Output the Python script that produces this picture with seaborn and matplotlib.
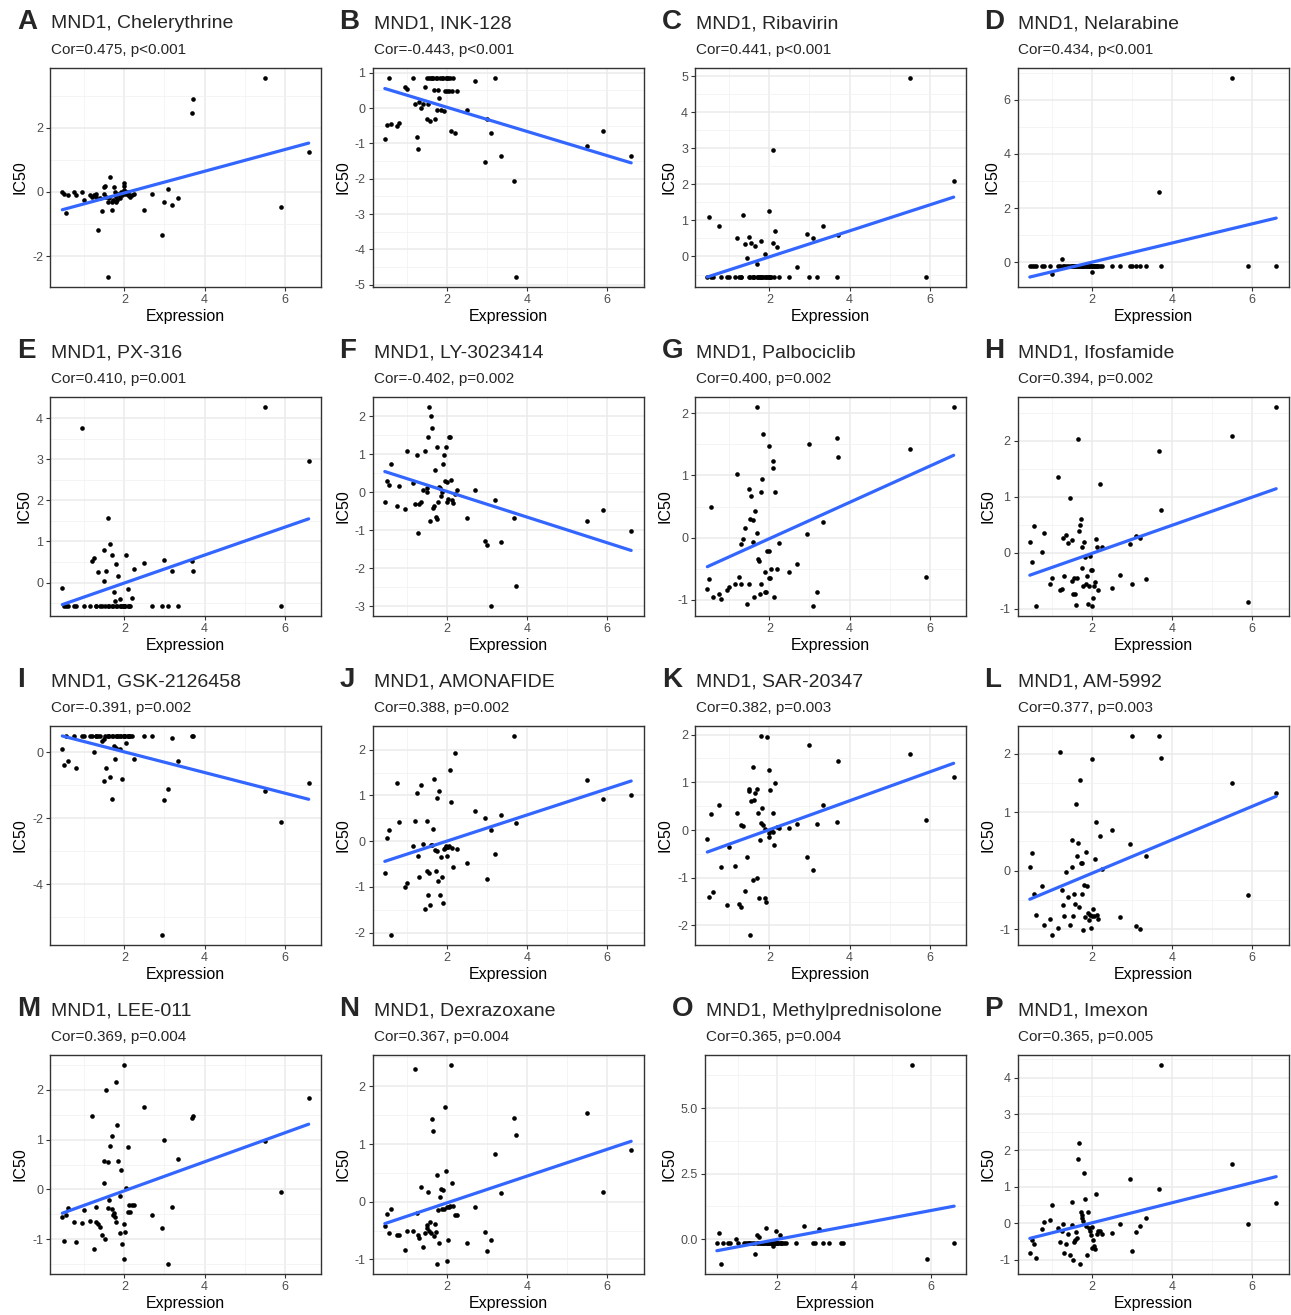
import numpy as np
import pandas as pd
import matplotlib
matplotlib.use("Agg")
import matplotlib.pyplot as plt
import seaborn as sns
from matplotlib.ticker import MultipleLocator, FormatStrFormatter

sns.set_theme(style="white")
plt.rcParams['font.family'] = ['Liberation Sans', 'DejaVu Sans']
plt.rcParams['axes.unicode_minus'] = False

# MND1 expression per cell line (shared by every panel)
expression = [0.45, 0.5, 0.55, 0.6, 0.75, 0.8, 0.95, 1.0, 1.15, 1.2,
              1.25, 1.28, 1.3, 1.35, 1.4, 1.45, 1.5, 1.5, 1.52, 1.55,
              1.58, 1.6, 1.62, 1.65, 1.68, 1.7, 1.72, 1.75, 1.76, 1.78,
              1.8, 1.82, 1.85, 1.88, 1.9, 1.92, 1.95, 1.98, 2.0, 2.0,
              2.02, 2.05, 2.08, 2.1, 2.12, 2.15, 2.2, 2.25, 2.5, 2.7,
              2.95, 3.0, 3.1, 3.2, 3.35, 3.68, 3.72, 5.5, 5.9, 6.6]

# IC50 values, same order as expression
chelerythrine = [0.0, -0.05, -0.65, -0.1, 0.0, -0.1, 0.0, -0.25, -0.1, -0.15,
                 -0.1, -0.15, -0.05, -1.2, -0.2, -0.6, 0.15, -0.05, 0.2, -0.15,
                 -2.65, -0.3, -0.2, 0.48, -0.3, -0.55, -0.25, 0.15, 0.0, -0.3,
                 -0.15, -0.25, -0.05, -0.2, -0.1, 0.0, -0.1, 0.2, 0.28, 0.05,
                 -0.05, 0.0, -0.1, 0.0, -0.1, -0.15, -0.1, -0.05, -0.57, -0.07,
                 -1.35, -0.3, 0.1, -0.42, -0.2, 2.45, 2.9, 3.55, -0.47, 1.25]
ink128 = [-0.87, -0.48, 0.85, -0.45, -0.5, -0.42, 0.6, 0.55, 0.85, 0.1,
          -0.82, -1.15, 0.18, 0.0, 0.1, 0.6, 0.85, -0.3, 0.1, 0.85,
          -0.38, 0.85, 0.85, 0.85, 0.52, -0.32, 0.85, -0.05, 0.85, 0.52,
          0.28, 0.85, -0.05, 0.85, 0.85, -0.08, 0.47, 0.85, 0.85, 0.47,
          0.85, 0.47, 0.85, -0.65, 0.47, 0.85, -0.72, 0.47, -0.05, 0.77,
          -1.52, -0.3, -0.72, 0.85, -1.35, -2.05, -4.78, -1.07, -0.65, -1.37]
ribavirin = [-0.57, 1.1, -0.57, -0.57, 0.85, -0.57, -0.57, -0.57, -0.57, 0.52,
             -0.57, -0.57, -0.57, 1.15, 0.35, -0.05, 0.55, -0.57, -0.57, 0.37,
             -0.57, -0.57, -0.57, 0.28, -0.2, -0.57, -0.57, -0.57, -0.57, 0.43,
             -0.57, -0.57, -0.57, 0.07, -0.57, -0.57, -0.57, -0.57, 1.25, -0.57,
             -0.57, -0.57, 0.37, 2.95, -0.57, 0.7, 0.25, -0.57, -0.57, -0.28,
             0.62, -0.57, 0.52, -0.57, 0.85, -0.57, 0.6, 4.95, -0.57, 2.1]
nelarabine = [-0.15, -0.15, -0.15, -0.15, -0.15, -0.15, -0.15, -0.45, -0.15, -0.15,
              0.1, -0.15, -0.15, -0.15, -0.15, -0.15, -0.15, -0.15, -0.15, -0.15,
              -0.15, -0.15, -0.15, -0.15, -0.15, -0.15, -0.15, -0.15, -0.15, -0.15,
              -0.15, -0.15, -0.15, -0.15, -0.15, -0.15, -0.15, -0.15, -0.38, -0.15,
              -0.15, -0.15, -0.15, -0.15, -0.15, -0.15, -0.15, -0.15, -0.15, -0.15,
              -0.15, -0.15, -0.15, -0.15, -0.15, 2.6, -0.15, 6.8, -0.15, -0.15]
px316 = [-0.13, -0.57, -0.57, -0.57, -0.57, -0.57, 3.75, -0.57, -0.57, 0.52,
         0.6, -0.57, -0.57, 0.25, -0.57, -0.57, 0.05, 0.8, -0.57, 0.28,
         1.58, -0.57, -0.57, 0.95, -0.57, 0.67, -0.57, -0.23, -0.45, -0.57,
         0.45, -0.57, 0.15, -0.57, -0.4, -0.57, -0.57, -0.57, -0.57, -0.57,
         -0.57, 0.68, -0.57, -0.15, -0.57, -0.57, -0.38, 0.33, 0.48, -0.57,
         -0.57, 0.55, -0.57, 0.27, -0.57, 0.52, 0.28, 4.27, -0.57, 2.95]
ly3023414 = [-0.25, 0.3, 0.2, 0.75, -0.35, 0.17, -0.43, 1.1, 0.25, -0.3,
             0.97, -1.07, -0.3, -0.25, 0.05, 1.1, 0.0, 0.1, 1.45, 2.25,
             -0.75, 2.02, 1.7, -0.42, -0.35, 0.6, -0.65, 1.2, -0.7, -0.25,
             0.15, 0.1, -0.1, 0.0, 0.75, 0.98, 0.3, 1.2, -0.25, 0.28,
             -0.17, 1.47, 1.45, 0.33, -0.2, -0.27, -0.05, 0.05, -0.67, 0.07,
             -1.28, -1.4, -3.0, -0.2, -1.3, -0.68, -2.48, -0.75, -0.47, -1.03]
palbociclib = [-0.82, -0.67, 0.5, -0.95, -0.9, -0.98, -0.85, -0.8, -0.75, 1.02,
               -0.63, -0.1, -0.75, -0.03, 0.15, -1.07, 0.78, -0.75, 0.3, 0.67,
               0.28, -0.07, -0.95, 0.43, 0.08, 2.1, -0.35, -0.38, -0.9, -0.75,
               0.73, 0.95, 1.67, -0.88, -0.55, -0.88, -0.22, 1.48, -0.65, -0.22,
               -0.65, -0.5, 1.12, 1.23, -0.95, 0.73, -0.5, -0.08, -0.55, -0.42,
               0.05, 1.5, -1.1, -0.87, 0.25, 1.6, 1.3, 1.43, -0.63, 2.1]
ifosfamide = [0.2, -0.17, 0.47, -0.95, 0.02, 0.35, -0.55, -0.45, 1.35, -0.67,
              -0.65, 0.27, -0.42, 0.32, 0.18, 0.98, 0.22, -0.5, -0.73, -0.45,
              -0.73, -0.93, -0.45, 2.02, 0.38, 0.5, 0.6, 0.1, -0.28, -0.6,
              0.2, -0.08, -0.55, -0.42, -0.92, -0.6, -0.05, -0.3, -0.95, -0.3,
              -0.8, -0.6, -0.52, 0.25, 0.1, -0.67, 1.22, 0.1, -0.62, -0.4,
              0.15, -0.55, 0.3, 0.27, -0.47, 1.82, 0.77, 2.08, -0.88, 2.6]
gsk2126458 = [0.1, -0.37, 0.5, -0.25, 0.5, -0.47, 0.5, 0.5, 0.5, 0.5,
              0.0, 0.5, 0.5, 0.5, 0.5, 0.35, 0.4, -0.87, 0.5, -0.47,
              0.5, 0.5, 0.5, -0.75, 0.5, -1.42, 0.5, 0.2, -0.2, 0.5,
              0.15, 0.5, 0.5, 0.5, 0.1, 0.5, -0.8, 0.5, 0.5, 0.5,
              0.5, 0.3, 0.5, 0.5, 0.5, 0.5, 0.5, -0.2, 0.5, 0.5,
              -5.55, -1.45, -1.1, 0.45, -0.25, 0.5, 0.5, -1.18, -2.1, -0.93]
amonafide = [-0.7, 0.07, 0.25, -2.05, 1.27, 0.43, -1.0, -0.92, -0.1, 0.45,
             1.05, -0.33, -0.78, 1.23, -0.07, -1.48, 0.45, -0.65, -1.17, -0.7,
             -1.4, -0.08, -0.08, 0.27, 1.35, -0.2, -0.65, 0.95, -0.22, -0.87,
             1.1, -1.17, -0.35, -0.78, -1.35, -0.18, -0.15, -0.1, -0.32, -0.12,
             -0.12, -0.1, 1.55, 0.85, -0.15, -0.57, 1.92, -0.17, -0.48, 0.65,
             0.5, -0.82, 0.25, -0.27, 0.58, 2.3, 0.4, 1.33, 0.92, 1.02]
sar20347 = [-0.18, -1.4, 0.33, -1.3, 0.53, -0.77, -1.57, -0.35, -0.75, 0.35,
            -1.55, -1.62, 0.1, 0.08, -1.28, -0.57, 0.85, 0.82, -2.2, 0.6,
            -1.05, 1.33, 0.62, 0.78, 0.85, -1.0, 0.35, -1.43, -0.2, 0.15,
            1.97, 0.47, 0.1, 0.03, -1.43, -1.5, 1.95, 1.25, -0.07, -0.15,
            0.83, 0.0, -0.05, 0.35, -0.32, 0.98, 0.07, 0.05, 0.05, 0.12,
            -0.57, 1.78, -0.83, 0.12, 0.52, 0.17, 1.45, 1.6, 0.22, 1.1]
am5992 = [0.07, 0.3, -0.4, -0.75, -0.27, -0.93, -0.82, -1.1, -0.98, 2.03,
          -0.33, -0.58, -0.77, -0.03, -0.45, -0.93, 0.53, 0.07, -0.77, -0.4,
          -0.57, 1.13, 0.25, 0.48, -0.62, 1.55, 0.13, 0.13, -0.4, -1.02,
          -0.25, -0.8, 0.32, -0.27, -0.72, -0.85, -0.75, -0.98, 1.9, -0.78,
          -0.65, -0.78, 0.2, 0.83, -0.75, -0.82, 0.6, 0.02, 0.7, -0.8,
          0.45, 2.3, -0.95, -1.0, 0.25, 2.3, 1.93, 1.5, -0.42, 1.32]
lee011 = [-0.55, -1.03, -0.52, -0.37, -0.65, -1.05, -0.68, -0.42, -0.63, 1.47,
          -1.2, -0.35, -0.65, -0.7, -0.75, -0.92, 0.58, 0.12, -1.0, 2.0,
          0.55, -0.38, -0.22, 0.88, 1.07, -0.4, -0.52, -0.47, -0.55, -0.65,
          2.15, 1.3, 0.58, -0.87, -0.13, 0.38, -1.1, -0.7, 2.5, -1.4,
          -0.85, 0.03, 0.85, -0.45, -0.32, -0.45, -0.32, -0.32, 1.65, -0.52,
          -0.77, 1.0, -1.5, -0.35, 0.62, 1.43, 1.47, 0.97, -0.05, 1.83]
dexrazoxane = [-0.42, -0.22, -0.55, -0.12, -0.57, -0.58, -0.83, -0.5, -0.5, 2.3,
               -0.2, -0.57, -0.62, 0.25, -0.78, -0.55, -0.4, -0.45, 0.17, -0.5,
               -0.35, -0.55, 1.43, 1.22, -0.6, -0.38, -0.52, -1.08, 0.47, -0.15,
               -0.72, 0.08, 0.22, -0.12, 0.2, -0.12, 1.65, 0.53, -1.02, -0.1,
               -0.67, -0.1, -0.08, 2.37, 0.33, -0.08, -0.23, -0.23, -0.72, -0.1,
               -0.53, -0.85, -0.67, 0.83, 0.15, 1.45, 1.15, 1.53, 0.17, 0.9]
methylprednisolone = [-0.15, 0.25, -0.95, -0.15, -0.15, -0.15, 0.0, -0.15, -0.15, -0.15,
                      -0.15, -0.15, -0.15, -0.15, -0.15, -0.55, 0.15, -0.15, -0.15, 0.1,
                      -0.15, -0.15, -0.15, -0.15, -0.15, -0.15, 0.43, -0.15, -0.15, -0.15,
                      -0.15, -0.15, -0.15, -0.15, -0.25, -0.15, -0.15, 0.3, -0.15, -0.15,
                      -0.15, -0.15, 0.17, -0.15, -0.15, -0.15, -0.15, -0.15, -0.15, 0.5,
                      -0.15, -0.15, 0.4, -0.15, -0.15, -0.15, -0.15, 6.65, -0.75, -0.15]
imexon = [-0.83, -0.45, -0.58, -0.95, -0.17, 0.03, 0.08, 0.5, -0.13, -0.52,
          -0.2, -0.03, -0.83, -0.57, -0.3, -0.87, 0.58, -0.05, -1.02, -0.52,
          -0.45, -0.25, -0.4, 1.77, 2.2, -1.12, 0.3, 0.22, 0.15, 0.05,
          1.38, 0.67, -0.07, -0.88, 0.32, -0.12, -0.2, -0.32, -0.68, -0.1,
          -0.45, -0.63, -0.7, 0.8, -0.3, -0.22, -0.22, -0.3, -0.27, -0.03,
          1.23, -0.75, -0.25, -0.08, 0.15, 0.95, 4.35, 1.62, -0.03, 0.55]

letters = list("ABCDEFGHIJKLMNOP")
drugs = ["Chelerythrine", "INK-128", "Ribavirin", "Nelarabine",
         "PX-316", "LY-3023414", "Palbociclib", "Ifosfamide",
         "GSK-2126458", "AMONAFIDE", "SAR-20347", "AM-5992",
         "LEE-011", "Dexrazoxane", "Methylprednisolone", "Imexon"]
cor_labels = ["Cor=0.475, p<0.001", "Cor=-0.443, p<0.001", "Cor=0.441, p<0.001", "Cor=0.434, p<0.001",
              "Cor=0.410, p=0.001", "Cor=-0.402, p=0.002", "Cor=0.400, p=0.002", "Cor=0.394, p=0.002",
              "Cor=-0.391, p=0.002", "Cor=0.388, p=0.002", "Cor=0.382, p=0.003", "Cor=0.377, p=0.003",
              "Cor=0.369, p=0.004", "Cor=0.367, p=0.004", "Cor=0.365, p=0.004", "Cor=0.365, p=0.005"]
ic50 = [chelerythrine, ink128, ribavirin, nelarabine, px316, ly3023414, palbociclib, ifosfamide,
        gsk2126458, amonafide, sar20347, am5992, lee011, dexrazoxane, methylprednisolone, imexon]
y_steps = [2, 1, 1, 2, 1, 1, 1, 1, 2, 1, 1, 1, 1, 1, 2.5, 1]

W, H = 1291, 1315
fig = plt.figure(figsize=(W / 100, H / 100), dpi=100)

for i, drug in enumerate(drugs):
    row, col = divmod(i, 4)
    left = col * 322.5 + (60 if drug == "Methylprednisolone" else 50)
    right = col * 322.5 + 321
    top = 68 + row * 329
    bottom = top + 219
    ax = fig.add_axes([left / W, 1 - bottom / H, (right - left) / W, (bottom - top) / H])

    df = pd.DataFrame({"Expression": expression, "IC50": ic50[i]})
    sns.regplot(data=df, x="Expression", y="IC50", ax=ax, ci=None, color="black",
                scatter_kws=dict(s=11, linewidths=0, alpha=1),
                line_kws=dict(color="#3366FF", lw=2.3))
    ax.margins(x=0.05, y=0.05)

    ax.xaxis.set_major_locator(MultipleLocator(2))
    ax.xaxis.set_minor_locator(MultipleLocator(1))
    ax.yaxis.set_major_locator(MultipleLocator(y_steps[i]))
    ax.yaxis.set_minor_locator(MultipleLocator(y_steps[i] / 2))
    if y_steps[i] == 2.5:
        ax.yaxis.set_major_formatter(FormatStrFormatter("%.1f"))
    else:
        ax.yaxis.set_major_formatter(FormatStrFormatter("%d"))

    ax.set_axisbelow(True)
    ax.grid(which="major", color="#EBEBEB", lw=1.1)
    ax.grid(which="minor", color="#F2F2F2", lw=0.6)
    for sp in ax.spines.values():
        sp.set_color("#333333")
        sp.set_linewidth(1.0)
    ax.tick_params(which="major", length=3, width=0.8, color="#333333",
                   labelcolor="#4D4D4D", labelsize=9, pad=2, bottom=True, left=True)
    ax.tick_params(which="minor", length=0)
    ax.set_xlabel("Expression", fontsize=11.5, labelpad=2, color="black")
    ax.set_ylabel("IC50", fontsize=11.5, labelpad=3, color="black")

    fig.text((left - 33) / W, 1 - (top - 46) / H, letters[i], fontsize=20,
             fontweight="bold", va="center", ha="left")
    fig.text((left + 1) / W, 1 - (top - 44) / H, f"MND1, {drug}", fontsize=14,
             va="center", ha="left")
    fig.text((left + 1) / W, 1 - (top - 18) / H, cor_labels[i], fontsize=11,
             va="center", ha="left")

fig.savefig("out.png", dpi=100, facecolor="white")
